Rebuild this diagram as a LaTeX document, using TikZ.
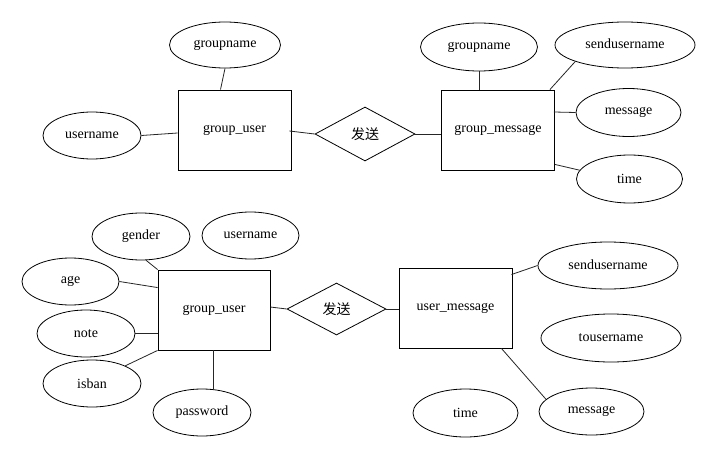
\documentclass[tikz,border=0pt]{standalone}
\usepackage{fontspec}
\setmainfont{Liberation Serif}
\newfontfamily\labelfont{Liberation Serif}
\newfontfamily\cjk{Noto Sans CJK SC}
\usetikzlibrary{shapes.geometric,calc}
\begin{document}
\begin{tikzpicture}[x=1pt,y=-1pt,
  every node/.style={font=\labelfont\fontsize{14}{16}\selectfont, inner sep=0pt},
  entity/.style={draw, rectangle, line width=0.9pt, minimum width=113pt, minimum height=80pt},
  attr/.style={draw, ellipse, line width=0.8pt},
  rel/.style={draw, diamond, line width=0.8pt, aspect=1.85, minimum width=100pt, minimum height=54pt, font=\cjk\fontsize{14}{16}\selectfont},
  link/.style={line width=0.8pt, draw=black!85}]
\useasboundingbox[fill=white] (0,0) rectangle (720,460);

% upper diagram: group users sending group messages
\node[entity] (gu1) at (234.5,130) {\raisebox{3pt}{group\_user}};
\node[rel] (d1) at (365,134) {发送};
\node[entity] (gm) at (498,130) {\raisebox{3pt}{group\_message}};
\node[attr, minimum width=111pt, minimum height=46pt] (gn1) at (225,45) {groupname};
\node[attr, minimum width=98pt, minimum height=47pt] (un1) at (92,135.5) {username};
\node[attr, minimum width=117pt, minimum height=48pt] (gn2) at (479,47) {groupname};
\node[attr, minimum width=140pt, minimum height=46pt] (su1) at (625,45) {\raisebox{2pt}{sendusername}};
\node[attr, minimum width=105pt, minimum height=48pt] (msg1) at (628.5,112.5) {\raisebox{2pt}{message}};
\node[attr, minimum width=106pt, minimum height=48pt] (tm1) at (629.5,179) {time};

\draw[link] (gn1.south) -- ($(gu1.north)+(-14,0)$);
\draw[link] (un1.east) -- ($(gu1.west)+(0,3)$);
\draw[link] ($(gu1.east)+(-2,1)$) -- (d1.west);
\draw[link] (d1.east) -- (d1.east -| gm.west);
\draw[link] (gn2.south) -- (gn2.south |- gm.north);
\draw[link] (su1.south west) -- ($(gm.north east)+(-5,0)$);
\draw[link] ($(gm.east)+(-1,-18)$) -- (msg1.west);
\draw[link] ($(gm.south east)+(0,-6)$) -- (tm1.170);

% lower diagram: users sending private messages
\node[entity, minimum width=112pt] (gu2) at (214,310) {\raisebox{2pt}{group\_user}};
\node[rel, minimum width=99pt, minimum height=52pt] (d2) at (336.5,309) {发送};
\node[entity] (um) at (455.5,308) {\raisebox{2pt}{user\_message}};
\node[attr, minimum width=98pt, minimum height=47pt] (gen) at (141,236.5) {gender};
\node[attr, minimum width=97pt, minimum height=47pt] (un2) at (250.5,235.5) {username};
\node[attr, minimum width=97pt, minimum height=47pt] (age) at (70.5,281.5) {age};
\node[attr, minimum width=98pt, minimum height=47pt] (note) at (86,333.5) {note};
\node[attr, minimum width=98pt, minimum height=47pt] (isb) at (92,383.5) {isban};
\node[attr, minimum width=98pt, minimum height=47pt] (pw) at (202,412.5) {password};
\node[attr, minimum width=140pt, minimum height=47pt] (su2) at (608,265.5) {\raisebox{2pt}{sendusername}};
\node[attr, minimum width=140pt, minimum height=48pt] (tu) at (611,338) {tousername};
\node[attr, minimum width=105pt, minimum height=48pt] (tm2) at (465.5,413) {time};
\node[attr, minimum width=105pt, minimum height=47pt] (msg2) at (591.5,411.5) {\raisebox{2pt}{message}};

\draw[link] (gen.-78) -- (gu2.north west);
\draw[link] (age.east) -- ($(gu2.north west)+(0,18)$);
\draw[link] (note.east) -- (note.east -| gu2.west);
\draw[link] (isb.28) -- (gu2.south west);
\draw[link] ($(gu2.south)+(-1,0)$) -- (pw.north -| {$(gu2.south)+(-1,0)$});
\draw[link] ($(gu2.east)+(0,-3)$) -- (d2.west);
\draw[link] (d2.east) -- (d2.east -| um.west);
\draw[link] ($(um.north east)+(-1,7)$) -- (su2.west);
\draw[link] ($(um.south east)+(-11,0)$) -- (msg2.165);
\end{tikzpicture}
\end{document}
